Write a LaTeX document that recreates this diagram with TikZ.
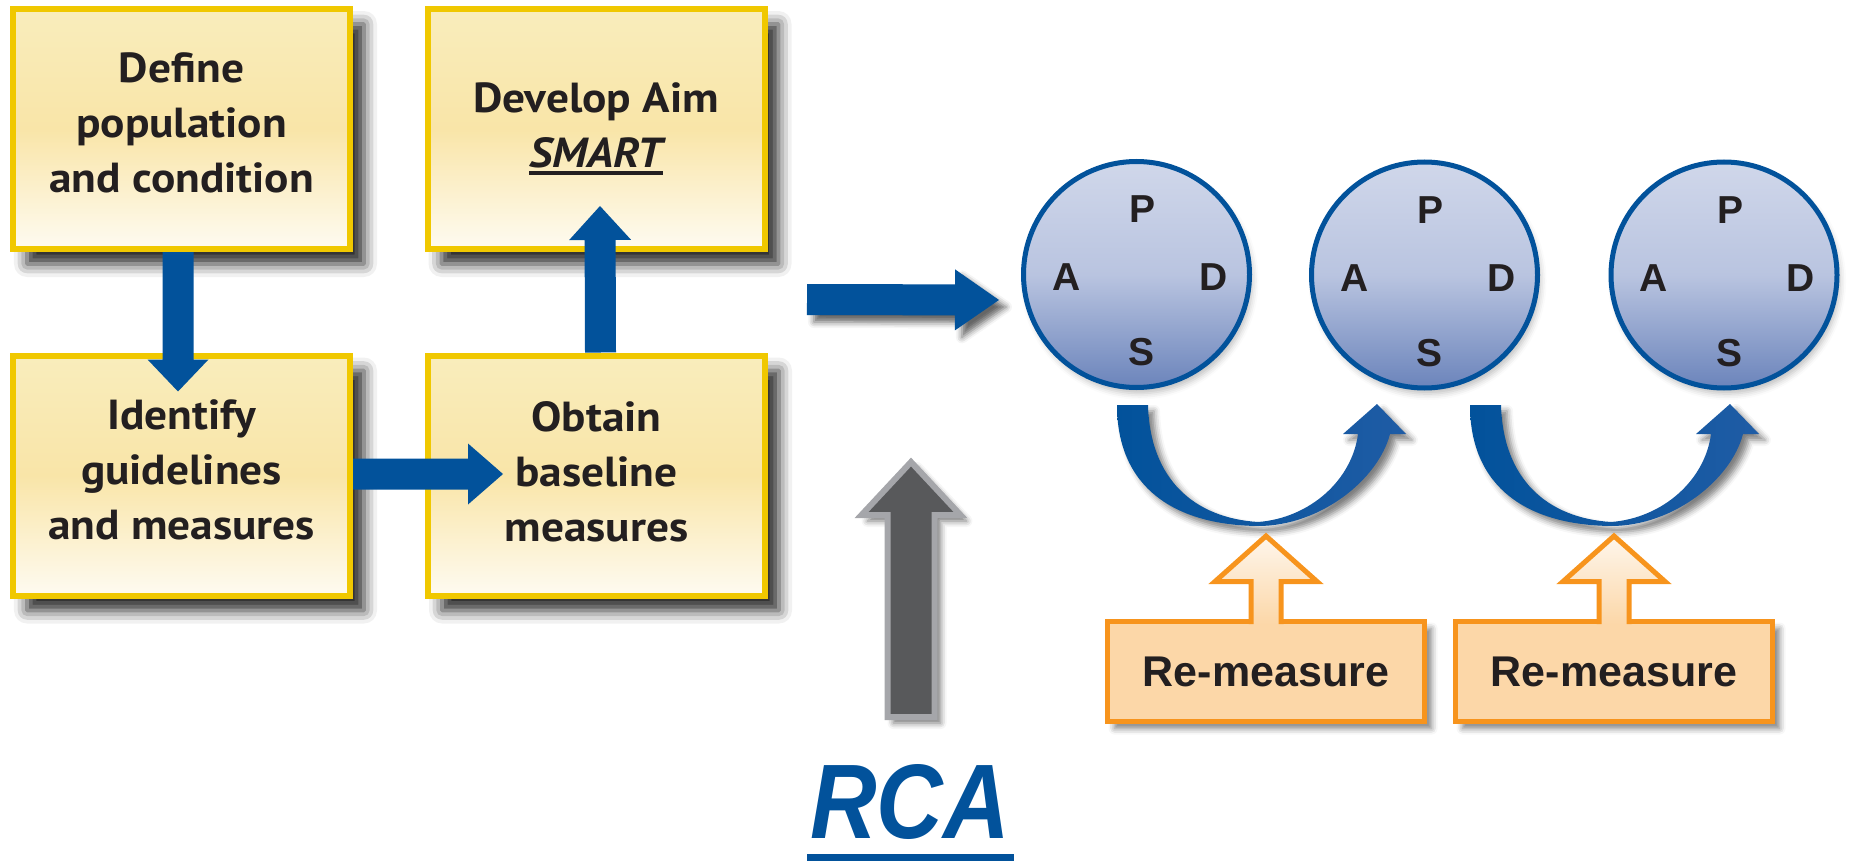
\documentclass[tikz,border=0pt]{standalone}
\usepackage{fontspec}
\setmainfont{PT Sans}[FakeStretch=1.08]
\newfontfamily\helv{Liberation Sans}
\usetikzlibrary{calc,shadows.blur}

\definecolor{arrowblue}{RGB}{2,82,155}
\definecolor{arrowblue2}{RGB}{31,92,165}
\definecolor{gold}{RGB}{240,200,0}
\definecolor{boxtop}{RGB}{249,237,188}
\definecolor{boxmid}{RGB}{249,229,168}
\definecolor{boxbot}{RGB}{254,251,241}
\definecolor{ink}{RGB}{35,31,32}
\definecolor{circtop}{RGB}{208,215,234}
\definecolor{circmid}{RGB}{185,196,224}
\definecolor{circbot}{RGB}{107,132,187}
\definecolor{rmorange}{RGB}{247,148,29}
\definecolor{peach}{RGB}{252,215,168}
\definecolor{peachlight}{RGB}{254,246,236}
\definecolor{rcadark}{RGB}{88,89,91}
\definecolor{rcalight}{RGB}{165,166,170}

\pgfdeclarelayer{under}
\pgfsetlayers{under,main}

% thick underline for a word
\newcommand{\thickul}[1]{\setbox0=\hbox{#1}\rlap{\vrule height -3pt depth 7pt width \wd0}\box0}
% invisible depth under the last line of a step
\newcommand{\lowstrut}{\rule[-12pt]{0pt}{12pt}}

% straight block arrow from #2 to #3: half shaft width #4, half head width #5, head length #6
\newcommand{\blockarrow}[6]{%
  \coordinate (ba-h) at ($(#3)!#6!(#2)$);
  \path[#1] ($(#2)!#4!90:(#3)$) -- ($(ba-h)!#4!-90:(#2)$) -- ($(ba-h)!#5!-90:(#2)$)
    -- (#3) -- ($(ba-h)!#5!90:(#2)$) -- ($(ba-h)!#4!90:(#2)$) -- ($(#2)!#4!-90:(#3)$) -- cycle;}

% U-shaped arrow running under a cycle, shifted right by #1
\newcommand{\loopback}[1]{%
  \begin{scope}[shift={(#1,0)}]
    \path[curvearrow] (1117,405) .. controls (1117,488) and (1175,525) .. (1258,526)
      .. controls (1320,526) and (1378,480) .. (1390,434) -- (1406,434) -- (1377,404)
      -- (1343,434) -- (1358,434) .. controls (1352,480) and (1310,518) .. (1258,522)
      .. controls (1195,518) and (1150,480) .. (1148,405) -- cycle;
  \end{scope}}

% hollow arrow rising from the top of node #1
\newcommand{\hollowarrow}[1]{%
  \begin{pgfonlayer}{under}
    \path[blur shadow={shadow xshift=6pt, shadow yshift=-6pt, shadow blur radius=6pt, shadow opacity=50}]
      ($(#1.north)+(-15,0)$) -- ($(#1.north)+(-15,-37.5)$) -- ($(#1.north)+(-51,-37.5)$)
      -- ($(#1.north)+(0,-83)$) -- ($(#1.north)+(51,-37.5)$) -- ($(#1.north)+(15,-37.5)$)
      -- ($(#1.north)+(15,0)$) -- cycle;
  \end{pgfonlayer}
  \path[top color=peachlight, bottom color=peach]
    ($(#1.north)+(-15,5)$) -- ($(#1.north)+(-15,-37.5)$) -- ($(#1.north)+(-51,-37.5)$)
    -- ($(#1.north)+(0,-83)$) -- ($(#1.north)+(51,-37.5)$) -- ($(#1.north)+(15,-37.5)$)
    -- ($(#1.north)+(15,5)$) -- cycle;
  \draw[rmorange, line width=5pt, line join=miter]
    ($(#1.north)+(-15,5)$) -- ($(#1.north)+(-15,-37.5)$) -- ($(#1.north)+(-51,-37.5)$)
    -- ($(#1.north)+(0,-83)$) -- ($(#1.north)+(51,-37.5)$) -- ($(#1.north)+(15,-37.5)$)
    -- ($(#1.north)+(15,5)$);}

\tikzset{
  stepshadow/.style={blur shadow={shadow xshift=14pt, shadow yshift=-15pt,
    shadow blur radius=13pt, shadow opacity=85}},
  stepbox/.style={draw=gold, line width=6pt, top color=boxtop, bottom color=boxbot,
    middle color=boxmid, minimum width=337pt, minimum height=240pt, inner sep=0pt,
    align=center, text=ink, font=\bfseries\fontsize{42}{55}\selectfont, stepshadow},
  blueblock/.style={fill=arrowblue},
  blueblockshadow/.style={fill=arrowblue,
    blur shadow={shadow xshift=7pt, shadow yshift=-7pt, shadow blur radius=6pt, shadow opacity=60}},
  pdsa/.style={circle, draw=arrowblue, line width=5pt, top color=circtop, bottom color=circbot,
    middle color=circmid, minimum size=226pt, inner sep=0pt,
    blur shadow={shadow xshift=3pt, shadow yshift=-6pt, shadow blur radius=6pt, shadow opacity=25}},
  letter/.style={font=\helv\bfseries\fontsize{39}{39}\selectfont, text=ink, inner sep=0pt},
  curvearrow/.style={left color=arrowblue, right color=arrowblue2,
    blur shadow={shadow xshift=6pt, shadow yshift=-6pt, shadow blur radius=6pt, shadow opacity=50}},
  measurebox/.style={draw=rmorange, line width=5pt, fill=peach, minimum width=317pt,
    minimum height=100pt, inner sep=0pt, text=ink, font=\helv\bfseries\fontsize{43}{43}\selectfont,
    blur shadow={shadow xshift=7pt, shadow yshift=-7pt, shadow blur radius=6pt, shadow opacity=50}},
  rcaarrow/.style={fill=rcadark, draw=rcalight, line width=6pt, line join=miter,
    blur shadow={shadow xshift=6pt, shadow yshift=-6pt, shadow blur radius=6pt, shadow opacity=55}},
}

\begin{document}
\begin{tikzpicture}[x=1pt, y=-1pt]
\begin{pgfonlayer}{under}
  \fill[white] (0,0) rectangle (1850,861);
\end{pgfonlayer}
\useasboundingbox (0,0) rectangle (1850,861);

% prepare the step shadow once, off the page
\path[stepshadow] (-2500,-2500) rectangle ++(337,240);

% the four steps
\node[stepbox] (define) at (181.5,129) {Define\\population\\and condition\lowstrut};
\node[stepbox] (aim) at (596,129) {Develop Aim\\\thickul{\itshape SMART}};
\node[stepbox] (identify) at (181.5,475.5) {Identify\\guidelines\\and measures\lowstrut};
\node[stepbox] (obtain) at (596.5,475.5) {Obtain\\baseline\\measures\rule[-8pt]{0pt}{8pt}};

% arrows between the steps
\coordinate (d-s) at ($(define.south)+(-3.5,0)$);
\coordinate (d-t) at ($(identify.north)+(-3.5,39)$);
\blockarrow{blueblock}{d-s}{d-t}{15.5pt}{30.5pt}{32pt}
\coordinate (r-s) at ($(identify.east)+(0,-1.5)$);
\coordinate (r-t) at ($(obtain.west)+(78,-1.5)$);
\blockarrow{blueblock}{r-s}{r-t}{15.5pt}{30.5pt}{35pt}
\coordinate (u-s) at ($(obtain.north)+(4,0)$);
\coordinate (u-t) at ($(aim.south)+(4,-46)$);
\blockarrow{blueblock}{u-s}{u-t}{15.5pt}{31pt}{34pt}

% PDSA cycles
\node[pdsa] (c1) at (1136.5,274.5) {};
\node[pdsa] (c2) at (1424.5,275) {};
\node[pdsa] (c3) at (1724,275) {};
\foreach \c in {c1,c2,c3}{
  \node[letter] (\c p) at ($(\c)+(6,-65)$) {P};
  \node[letter] (\c a) at ($(\c)+(-70,3)$) {A};
  \node[letter] (\c d) at ($(\c)+(77,3)$) {D};
  \node[letter] (\c s) at ($(\c)+(5,78)$) {S};
}

% arrow into the first cycle
\coordinate (b-s) at (807,299.5);
\coordinate (b-t) at ($(c1.west)+(-22,25.5)$);
\blockarrow{blueblockshadow}{b-s}{b-t}{15.5pt}{30.5pt}{44pt}

% arrows from one cycle to the next
\loopback{0}
\loopback{353}

% re-measure inputs
\node[measurebox] (rm1) at (1266,671.5) {Re-measure};
\node[measurebox] (rm2) at (1614,671.5) {Re-measure};
\hollowarrow{rm1}
\hollowarrow{rm2}

% root cause analysis
\node[font=\helv\bfseries\itshape\fontsize{106}{106}\selectfont, text=arrowblue,
  xscale=0.87, anchor=base, inner sep=0pt] (rca) at (910,838.5) {RCA};
\fill[arrowblue] ($(rca.base)+(-103.5,15.5)$) rectangle ($(rca.base)+(103.5,22.5)$);
\coordinate (g-s) at (911,717);
\coordinate (g-t) at (911,462);
\blockarrow{rcaarrow}{g-s}{g-t}{23.5pt}{49.5pt}{53pt}
\end{tikzpicture}
\end{document}
